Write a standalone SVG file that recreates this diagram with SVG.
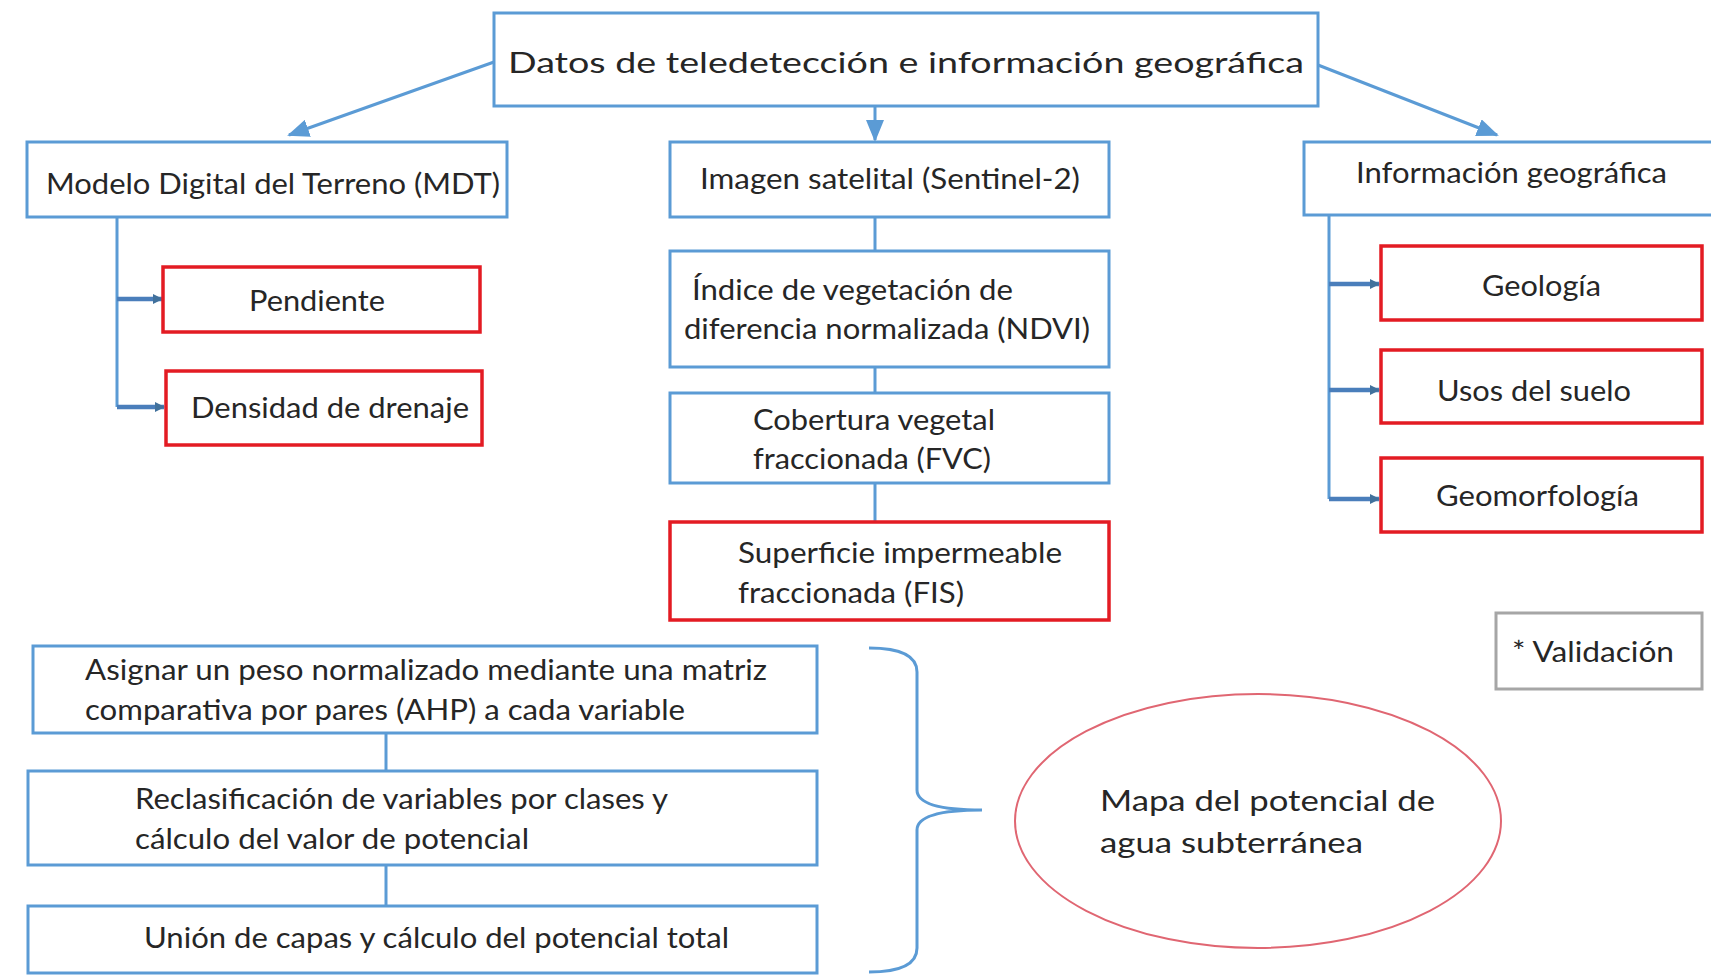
<svg xmlns="http://www.w3.org/2000/svg" width="1711" height="977" viewBox="0 0 1711 977">
<style>
.b{fill:#fff;stroke:#5b9bd5;stroke-width:3}
.r{fill:#fff;stroke:#e31b23;stroke-width:3.5}
.g{fill:#fff;stroke:#a6a6a6;stroke-width:3}
.t{font-family:Lato,"Open Sans",sans-serif;fill:#262626;font-size:29px;dominant-baseline:central}
.c{text-anchor:middle}
.ln{stroke:#5b9bd5;stroke-width:3;fill:none}
.br{stroke:#4a7ebb;stroke-width:4.5;fill:none}
</style>
<defs>
<marker id="ah2" markerWidth="10" markerHeight="10" refX="9" refY="5" orient="auto" markerUnits="userSpaceOnUse" viewBox="0 0 10 10">
<path d="M0,0 L10,5 L0,10 z" fill="#41719c"/>
</marker>
<marker id="big" markerWidth="22" markerHeight="18" refX="20" refY="9" orient="auto" markerUnits="userSpaceOnUse" viewBox="0 0 22 18">
<path d="M0,0 L22,9 L0,18 z" fill="#5b9bd5"/>
</marker>
</defs>
<rect width="1711" height="977" fill="#fff"/>

<g id="connectors">
<line class="ln" x1="494" y1="62" x2="289" y2="135" marker-end="url(#big)"/>
<line class="ln" x1="875" y1="106" x2="875" y2="140" marker-end="url(#big)"/>
<line class="ln" x1="1318" y1="65" x2="1497" y2="135" marker-end="url(#big)"/>
<line class="ln" x1="117" y1="217" x2="117" y2="407"/>
<line class="br" x1="117" y1="299" x2="162" y2="299" marker-end="url(#ah2)"/>
<line class="br" x1="117" y1="407" x2="164" y2="407" marker-end="url(#ah2)"/>
<line class="ln" x1="875" y1="217" x2="875" y2="251"/>
<line class="ln" x1="875" y1="367" x2="875" y2="393"/>
<line class="ln" x1="875" y1="483" x2="875" y2="522"/>
<line class="ln" x1="1329" y1="215" x2="1329" y2="499"/>
<line class="br" x1="1329" y1="284" x2="1379" y2="284" marker-end="url(#ah2)"/>
<line class="br" x1="1329" y1="390" x2="1379" y2="390" marker-end="url(#ah2)"/>
<line class="br" x1="1329" y1="499" x2="1379" y2="499" marker-end="url(#ah2)"/>
<line class="ln" x1="386" y1="733" x2="386" y2="771"/>
<line class="ln" x1="386" y1="865" x2="386" y2="906"/>
<path class="ln" d="M869,648 Q917,648 917,672 L917,790 Q917,810 982,810 Q917,810 917,830 L917,948 Q917,972 869,972"/>
</g>

<g id="n-top"><rect class="b" x="494" y="13" width="824" height="93"/>
<text class="t" x="508" y="61" font-size="36" textLength="796" lengthAdjust="spacingAndGlyphs">Datos de teledetección e información geográfica</text></g>

<g id="n-mdt"><rect class="b" x="27" y="142" width="480" height="75"/>
<text class="t" x="46" y="182" textLength="454" lengthAdjust="spacingAndGlyphs">Modelo Digital del Terreno (MDT)</text></g>

<g id="n-sat"><rect class="b" x="670" y="142" width="439" height="75"/>
<text class="t" x="700" y="177" textLength="380" lengthAdjust="spacingAndGlyphs">Imagen satelital (Sentinel-2)</text></g>

<g id="n-geo"><rect class="b" x="1304" y="142" width="420" height="73"/>
<text class="t" x="1356" y="171" textLength="311" lengthAdjust="spacingAndGlyphs">Información geográfica</text></g>

<g id="n-pend"><rect class="r" x="163" y="267" width="317" height="65"/>
<text class="t" x="249" y="299" textLength="136" lengthAdjust="spacingAndGlyphs">Pendiente</text></g>

<g id="n-dens"><rect class="r" x="166" y="371" width="316" height="74"/>
<text class="t" x="191" y="406" textLength="278" lengthAdjust="spacingAndGlyphs">Densidad de drenaje</text></g>

<g id="n-ndvi"><rect class="b" x="670" y="251" width="439" height="116"/>
<text class="t" x="692" y="288" textLength="321" lengthAdjust="spacingAndGlyphs">Índice de vegetación de</text>
<text class="t" x="684" y="327" textLength="406" lengthAdjust="spacingAndGlyphs">diferencia normalizada (NDVI)</text></g>

<g id="n-fvc"><rect class="b" x="670" y="393" width="439" height="90"/>
<text class="t" x="753" y="418" textLength="242" lengthAdjust="spacingAndGlyphs">Cobertura vegetal</text>
<text class="t" x="753" y="457" textLength="238" lengthAdjust="spacingAndGlyphs">fraccionada (FVC)</text></g>

<g id="n-fis"><rect class="r" x="670" y="522" width="439" height="98"/>
<text class="t" x="738" y="551" textLength="324" lengthAdjust="spacingAndGlyphs">Superficie impermeable</text>
<text class="t" x="738" y="591" textLength="226" lengthAdjust="spacingAndGlyphs">fraccionada (FIS)</text></g>

<g id="n-geol"><rect class="r" x="1381" y="246" width="321" height="74"/>
<text class="t" x="1482" y="284" textLength="119" lengthAdjust="spacingAndGlyphs">Geología</text></g>

<g id="n-usos"><rect class="r" x="1381" y="350" width="321" height="73"/>
<text class="t" x="1437" y="389" textLength="194" lengthAdjust="spacingAndGlyphs">Usos del suelo</text></g>

<g id="n-geom"><rect class="r" x="1381" y="458" width="321" height="74"/>
<text class="t" x="1436" y="494" textLength="203" lengthAdjust="spacingAndGlyphs">Geomorfología</text></g>

<g id="n-val"><rect class="g" x="1496" y="613" width="206" height="76"/>
<text class="t" x="1512" y="650" textLength="162" lengthAdjust="spacingAndGlyphs">* Validación</text></g>

<g id="n-ahp"><rect class="b" x="33" y="646" width="784" height="87"/>
<text class="t" x="85" y="668" textLength="682" lengthAdjust="spacingAndGlyphs">Asignar un peso normalizado mediante una matriz</text>
<text class="t" x="85" y="708" textLength="600" lengthAdjust="spacingAndGlyphs">comparativa por pares (AHP) a cada variable</text></g>

<g id="n-recl"><rect class="b" x="28" y="771" width="789" height="94"/>
<text class="t" x="135" y="797" textLength="533" lengthAdjust="spacingAndGlyphs">Reclasificación de variables por clases y</text>
<text class="t" x="135" y="837" textLength="394" lengthAdjust="spacingAndGlyphs">cálculo del valor de potencial</text></g>

<g id="n-union"><rect class="b" x="28" y="906" width="789" height="67"/>
<text class="t" x="144" y="936" textLength="585" lengthAdjust="spacingAndGlyphs">Unión de capas y cálculo del potencial total</text></g>

<g id="n-mapa"><ellipse cx="1258" cy="821" rx="243" ry="127" fill="#fff" stroke="#e06672" stroke-width="2"/>
<text class="t" x="1100" y="799" font-size="34" textLength="335" lengthAdjust="spacingAndGlyphs">Mapa del potencial de</text>
<text class="t" x="1100" y="841" font-size="34" textLength="263" lengthAdjust="spacingAndGlyphs">agua subterránea</text></g>
</svg>
